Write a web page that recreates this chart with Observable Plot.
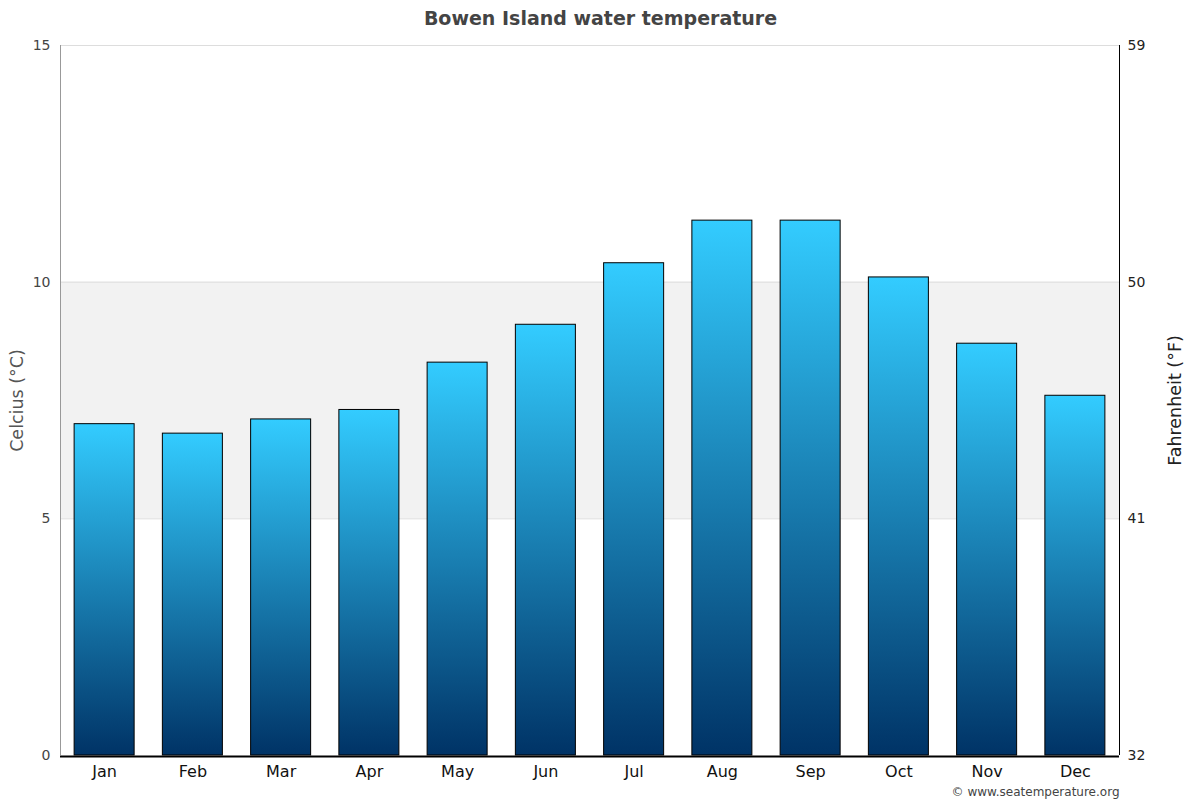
<!DOCTYPE html>
<html>
<head>
<meta charset="utf-8">
<script src="https://cdn.jsdelivr.net/npm/d3@7"></script>
<script src="https://cdn.jsdelivr.net/npm/@observablehq/plot@0.6"></script>
<style>
  html, body { margin: 0; padding: 0; background: #fff; }
  #chart { width: 1200px; height: 800px; }
  svg { font-family: "DejaVu Sans", sans-serif; }
</style>
</head>
<body>
<div id="chart"></div>
<script>
const months = ["Jan","Feb","Mar","Apr","May","Jun","Jul","Aug","Sep","Oct","Nov","Dec"];
const celsius = [7.0, 6.8, 7.1, 7.3, 8.3, 9.1, 10.4, 11.3, 11.3, 10.1, 8.7, 7.6];
const yTicks = [0, 5, 10, 15];
const fahrenheitLabels = ["32", "41", "50", "59"];
const bandRange = [5, 10];
const title = "Bowen Island water temperature";
const leftLabel = "Celcius (°C)";
const rightLabel = "Fahrenheit (°F)";
const credit = "© www.seatemperature.org";

const data = months.map((m, i) => ({month: m, c: celsius[i]}));

const defsMark = () => {
  const defs = d3.create("svg:defs");
  const g = defs.append("linearGradient")
    .attr("id", "barGrad").attr("x1", 0).attr("y1", 0).attr("x2", 0).attr("y2", 1);
  g.append("stop").attr("offset", "0%").attr("stop-color", "#33ccff");
  g.append("stop").attr("offset", "100%").attr("stop-color", "#003366");
  return defs.node();
};

const sideLines = (index, scales, values, dimensions) => {
  const {width, marginLeft, marginRight} = dimensions;
  const g = d3.create("svg:g");
  const yTop = scales.y(yTicks[yTicks.length - 1]);
  const yBot = scales.y(0);
  g.append("line").attr("x1", marginLeft + 0.5).attr("x2", marginLeft + 0.5)
    .attr("y1", yTop).attr("y2", yBot).attr("stroke", "#999").attr("stroke-width", 1);
  g.append("line").attr("x1", width - marginRight + 0.5).attr("x2", width - marginRight + 0.5)
    .attr("y1", yTop).attr("y2", yBot).attr("stroke", "#000").attr("stroke-width", 1);
  return g.node();
};

const chart = Plot.plot({
  width: 1200,
  height: 800,
  marginTop: 45,
  marginBottom: 45,
  marginLeft: 60,
  marginRight: 81,
  style: {fontFamily: "DejaVu Sans, sans-serif", background: "#fff"},
  x: {domain: months, paddingInner: 0.32, paddingOuter: 0.16, round: false, label: null},
  y: {domain: [0, 15], label: null},
  marks: [
    defsMark,
    Plot.rect([bandRange], {y1: d => d[0], y2: d => d[1], fill: "#f2f2f2"}),
    Plot.ruleY(yTicks.slice(1), {stroke: "#dddddd", strokeWidth: 1}),
    Plot.barY(data, {x: "month", y: "c", fill: "url(#barGrad)", stroke: "#000", strokeWidth: 1}),
    sideLines,
    Plot.ruleY([0], {stroke: "#000", strokeWidth: 2, dy: 1}),
    Plot.axisY({ticks: yTicks, anchor: "left", tickSize: 0, tickPadding: 10, fontSize: 14, fill: "#444", label: null}),
    Plot.axisY({ticks: yTicks, anchor: "right", tickSize: 0, tickPadding: 8, fontSize: 14, fill: "#222", label: null,
      tickFormat: d => fahrenheitLabels[yTicks.indexOf(d)]}),
    Plot.axisX({anchor: "bottom", tickSize: 0, tickPadding: 10, fontSize: 16, fill: "#111", label: null}),
    Plot.text([leftLabel], {frameAnchor: "left", textAnchor: "middle", lineAnchor: "middle", rotate: -90, dx: -43, fontSize: 17.5, fill: "#555"}),
    Plot.text([rightLabel], {frameAnchor: "right", textAnchor: "middle", lineAnchor: "middle", rotate: -90, dx: 56, fontSize: 17.5, fill: "#222"}),
    Plot.text([title], {frameAnchor: "top", lineAnchor: "middle", dx: 10.5, dy: -27, fontSize: 19, fontWeight: "bold", fill: "#444"}),
    Plot.text([credit], {frameAnchor: "bottom-right", textAnchor: "end", lineAnchor: "middle", dy: 37, fontSize: 12, fill: "#444"})
  ]
});

document.getElementById("chart").appendChild(chart);
</script>
</body>
</html>
